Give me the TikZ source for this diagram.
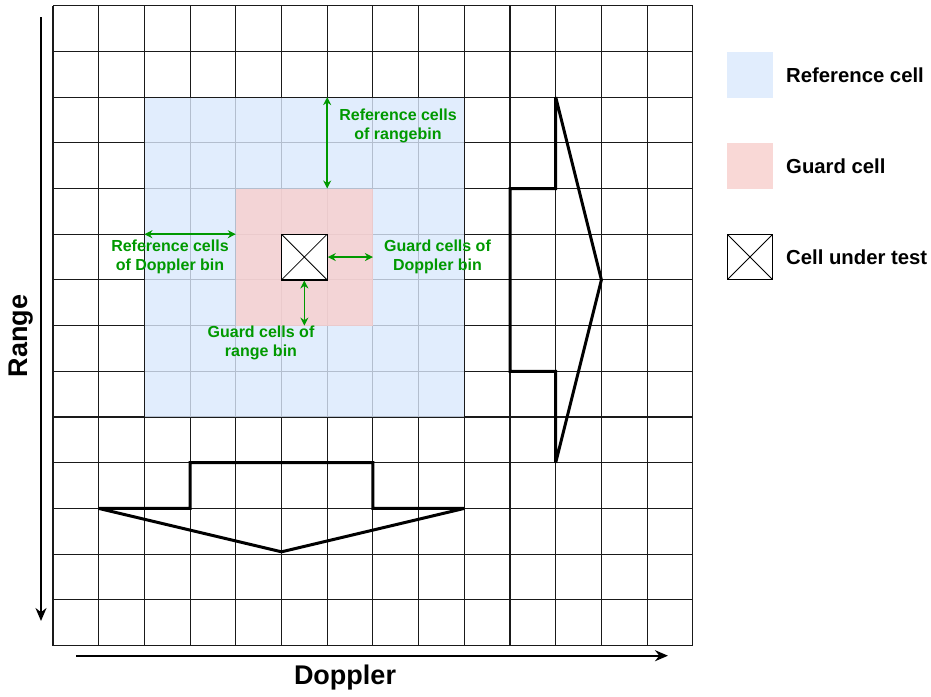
\documentclass[tikz,border=0pt]{standalone}
\usepackage{fontspec}
\setmainfont{Liberation Sans}
\usetikzlibrary{arrows.meta}
\definecolor{refblue}{HTML}{DAE8FC}
\definecolor{guardred}{HTML}{F8CECC}
\definecolor{annot}{HTML}{009900}
\definecolor{gridline}{HTML}{1A1A1A}

\begin{document}
\begin{tikzpicture}[x=1pt,y=-1pt,
  gridln/.style={draw=gridline,line width=1.1pt},
  refzone/.style={fill=refblue,fill opacity=0.8},
  guardzone/.style={fill=guardred,fill opacity=0.8},
  axis/.style={line width=2pt,-{Stealth[length=13pt,width=11pt]}},
  axislabel/.style={font=\bfseries\fontsize{27}{31}\selectfont,inner sep=0pt},
  bigarrow/.style={line width=3pt,line join=miter,miter limit=2},
  note/.style={text=annot,font=\bfseries\fontsize{16}{19.5}\selectfont,align=center,inner sep=0pt},
  annarrow/.style={draw=annot,line width=1.5pt,{Stealth[length=8pt,width=8pt]}-{Stealth[length=8pt,width=8pt]}},
  crossbox/.style={draw=black,fill=white,line width=1.2pt,minimum size=45.7pt,inner sep=0pt,
    path picture={\draw[line width=0.8pt]
      (path picture bounding box.north west) -- (path picture bounding box.south east)
      (path picture bounding box.north east) -- (path picture bounding box.south west);}},
  legendbox/.style={minimum size=45.7pt,inner sep=0pt},
  legendtext/.style={anchor=west,font=\bfseries\fontsize{20.3}{24}\selectfont,inner sep=0pt}
]
\useasboundingbox (0,0) rectangle (931,696);

% range-Doppler map, in cell units
\begin{scope}[shift={(53,5.7)},x=45.7pt,y=-45.7pt]
  \foreach \i in {0,...,14}{
    \draw[gridln] (\i,0) -- (\i,14);
    \draw[gridln] (0,\i) -- (14,\i);
  }
  % training and guard windows
  \fill[refzone] (2.015,2.015) rectangle (9,9);
  \fill[guardzone] (4,4) rectangle (7,7);
  \node[crossbox] (cut) at (5.5,5.5) {};

  % window annotations
  \coordinate (rngtop) at (6,2);
  \coordinate (rngbot) at (6,4);
  \coordinate (dopl) at (2,5);
  \coordinate (dopr) at (4,5);
  \coordinate (grdr) at (7,5.5);
  \coordinate (grdb) at (5.5,7);
  \draw[annarrow] (rngtop) -- (rngbot);
  \draw[annarrow] (dopl) -- (dopr);
  \draw[annarrow] (cut.east) -- (grdr);
  \draw[annarrow] (cut.south) -- (grdb);

  % sliding direction along Doppler (down) and range (right)
  \draw[bigarrow] (3,10) -- (7,10) -- (7,11) -- (9,11) -- (5,11.95)
    -- (1,11) -- (3,11) -- cycle;
  \draw[bigarrow] (10,4) -- (11,4) -- (11,2) -- (12,6) -- (11,10)
    -- (11,8) -- (10,8) -- cycle;
\end{scope}

\node[note] (t1) at (398,126) {Reference cells\\of rangebin};
\node[note] (t2) at (170,257) {Reference cells\\of Doppler bin};
\node[note] (t3) at (437.5,257) {Guard cells of\\Doppler bin};
\node[note] (t4) at (261,343) {Guard cells of\\range bin};

% axes
\coordinate (rs) at (41,17);
\coordinate (re) at (41,621);
\coordinate (ds) at (76,655.7);
\coordinate (de) at (668,655.7);
\draw[axis] (rs) -- (re);
\draw[axis] (ds) -- (de);
\node[axislabel,rotate=90] (rlab) at (21.5,336) {Range};
\node[axislabel] (dlab) at (345,678) {Doppler};

% legend
\node[legendbox,fill=refblue,fill opacity=0.8] (lg1) at (750,75) {};
\node[legendbox,fill=guardred,fill opacity=0.8] (lg2) at (750,166) {};
\node[crossbox] (lg3) at (750,257) {};
\node[legendtext] (lt1) at (786,75) {Reference cell};
\node[legendtext] (lt2) at (786,166) {Guard cell};
\node[legendtext] (lt3) at (786,257) {Cell under test};
\end{tikzpicture}
\end{document}
